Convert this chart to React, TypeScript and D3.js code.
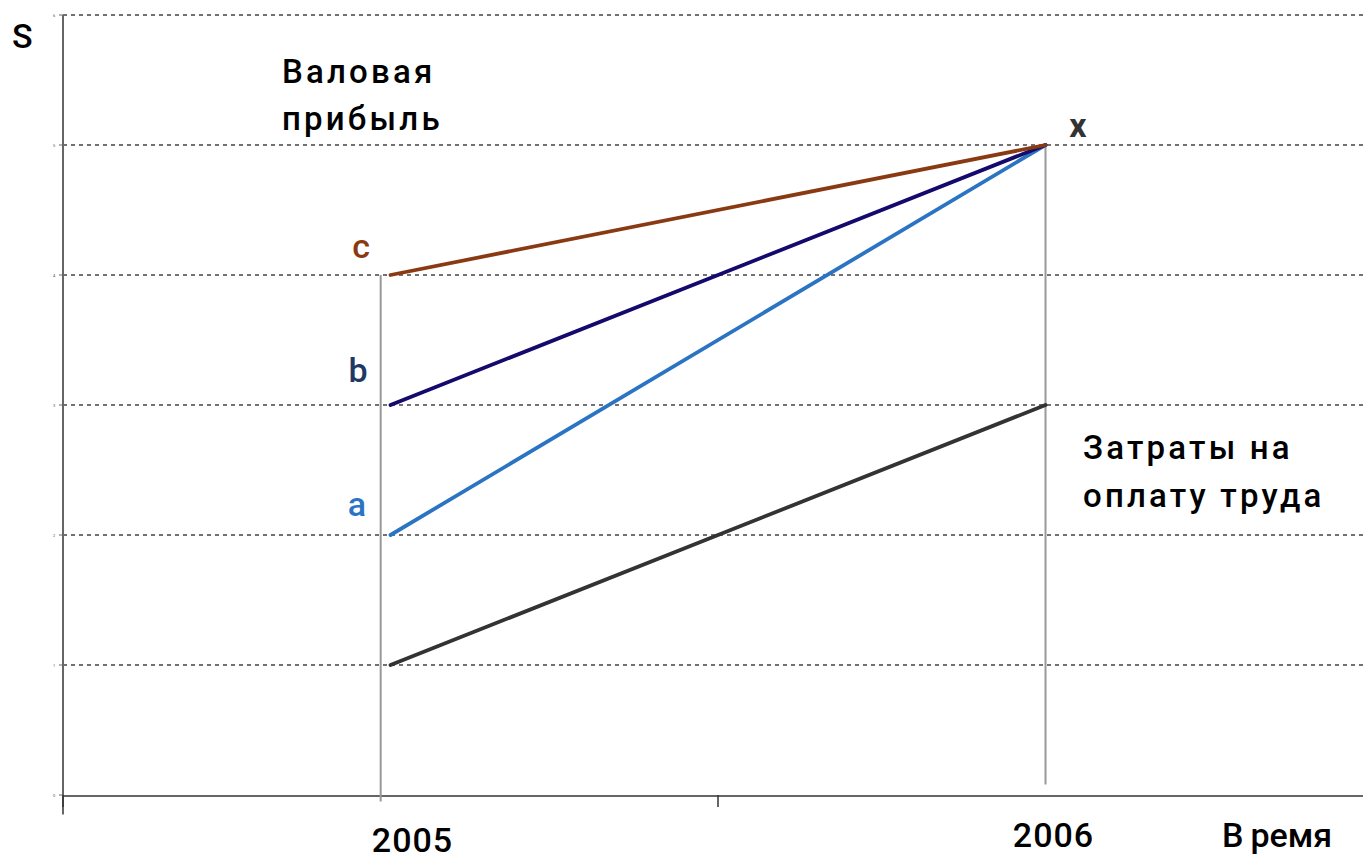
import React from 'react';
import * as d3 from 'd3';

// values
const yTicks = [0, 1, 2, 3, 4, 5, 6];
const xTicks = [0, 1, 2];
const periods = [0.5, 1.5]; // 2005, 2006
const periodLabels = ['2005', '2006'];
const grossC = [4, 5];
const grossB = [3, 5];
const grossA = [2, 5];
const laborCosts = [1, 3];

const W = 1363;
const H = 859;
const FONT = 'Roboto, "Noto Sans", sans-serif';

const App = () => {
  const x = d3.scaleLinear().domain([0, 2]).range([63, 1373]);
  const y = d3.scaleLinear().domain([0, 6]).range([795, 15]);

  const line = d3.line<number>()
    .x((d, i) => x(periods[i]))
    .y(d => y(d));

  const series = [
    { vals: laborCosts, color: '#333333' },
    { vals: grossA, color: '#2b74c3' },
    { vals: grossB, color: '#140a6e' },
    { vals: grossC, color: '#8a3a12' },
  ];

  return (
    <div style={{ position: 'absolute', left: 0, top: 0 }}>
      <svg width={W} height={H} style={{ display: 'block', background: '#fff' }}>
        {/* dashed grid */}
        {yTicks.filter(t => t > 0).map(t => (
          <line key={t} x1={x(0)} x2={W} y1={y(t)} y2={y(t)}
            stroke="#444" strokeWidth={1.5} strokeDasharray="4,4" />
        ))}

        {/* y axis */}
        <line x1={x(0)} x2={x(0)} y1={y(6)} y2={y(-0.15)} stroke="#666" strokeWidth={2} />
        {yTicks.map(t => (
          <g key={t}>
            <line x1={x(0) - 4} x2={x(0)} y1={y(t)} y2={y(t)} stroke="#666" strokeWidth={1} />
            <text x={x(0) - 9} y={y(t) + 1.5} fontSize={4} fill="#555" textAnchor="middle"
              fontFamily={FONT}>{t}</text>
          </g>
        ))}

        {/* x axis */}
        <line x1={x(0)} x2={W} y1={y(0) + 1} y2={y(0) + 1} stroke="#333" strokeWidth={1.6} />
        {xTicks.map(t => (
          <line key={t} x1={x(t)} x2={x(t)} y1={y(0)} y2={y(0) + 12} stroke="#333" strokeWidth={1.5} />
        ))}

        {/* period guide lines */}
        <line x1={x(0.485)} x2={x(0.485)} y1={y(grossC[0])} y2={y(-0.05)} stroke="#999" strokeWidth={2} />
        <line x1={x(periods[1])} x2={x(periods[1])} y1={y(5)} y2={y(0.08)} stroke="#999" strokeWidth={2} />

        {series.map((s, i) => (
          <path key={i} d={line(s.vals) || ''} fill="none" stroke={s.color} strokeWidth={3.8} strokeLinecap="round" />
        ))}

        {/* labels */}
        <text x={12} y={48} fontFamily={FONT} fontSize={34} fontWeight={500} fill="#000">S</text>
        <text fontFamily={FONT} fontSize={33} fontWeight={500} fill="#000" letterSpacing={3.2}>
          <tspan x={282} y={83}>Валовая</tspan>
          <tspan x={282} y={130}>прибыль</tspan>
        </text>
        <text fontFamily={FONT} fontSize={33} fontWeight={500} fill="#000" letterSpacing={3.2}>
          <tspan x={1083} y={459}>Затраты на</tspan>
          <tspan x={1083} y={507}>оплату труда</tspan>
        </text>
        <text x={361} y={258} fontFamily={FONT} fontSize={34} fontWeight={500} fill="#8a3a12" textAnchor="middle">c</text>
        <text x={358} y={382} fontFamily={FONT} fontSize={34} fontWeight={500} fill="#1f3864" textAnchor="middle">b</text>
        <text x={357} y={516} fontFamily={FONT} fontSize={34} fontWeight={500} fill="#2b74c3" textAnchor="middle">a</text>
        <text x={1078} y={137} fontFamily={FONT} fontSize={34} fontWeight={700} fill="#333" textAnchor="middle">x</text>

        {periodLabels.map((l, i) => (
          <text key={l} x={x(periods[i]) + (i === 0 ? 22 : 8)} y={i === 0 ? 852 : 847}
            fontFamily={FONT} fontSize={34} fontWeight={500} fill="#000" textAnchor="middle"
            letterSpacing={1}>{l}</text>
        ))}
        <text x={1222} y={847} fontFamily={FONT} fontSize={34} fontWeight={500} fill="#000">
          В<tspan dx={7}>ремя</tspan>
        </text>
      </svg>
    </div>
  );
};

export default App;
